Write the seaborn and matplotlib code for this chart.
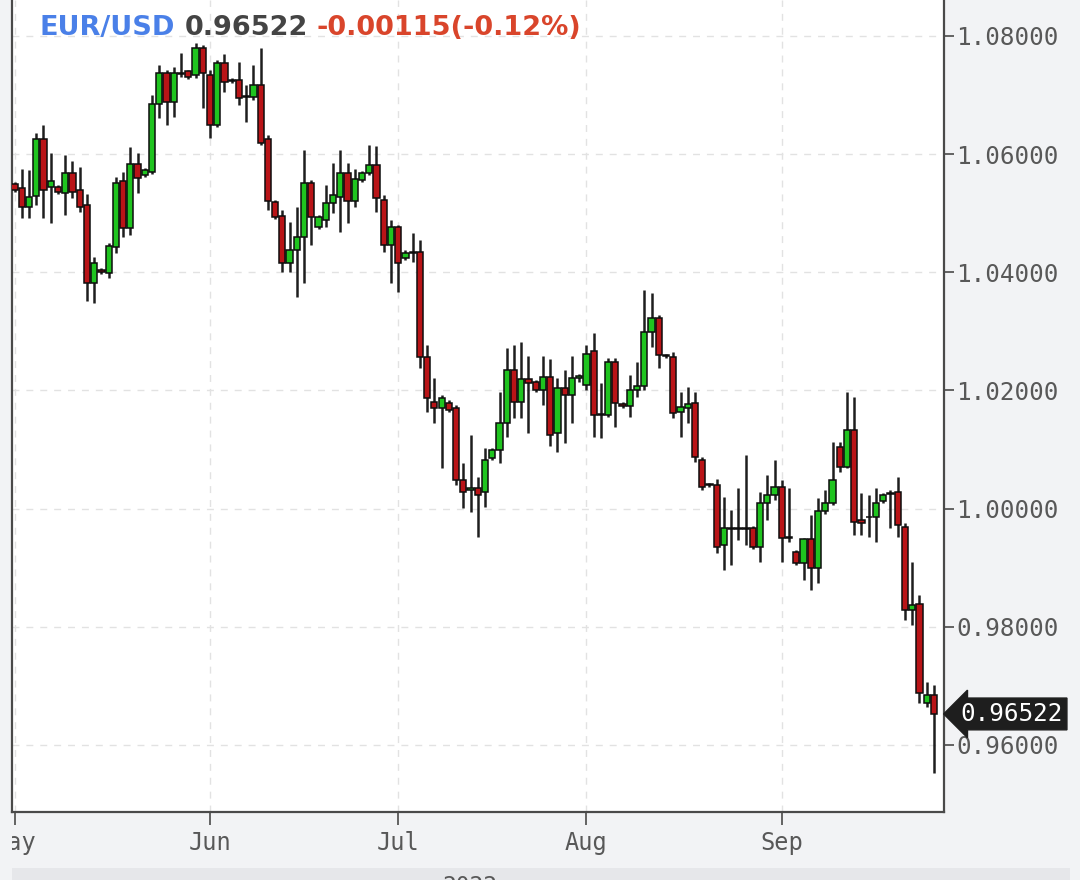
import numpy as np
import pandas as pd
import matplotlib
matplotlib.use("Agg")
import matplotlib.pyplot as plt
import seaborn as sns
from matplotlib.transforms import Bbox, TransformedBbox
from matplotlib.ticker import FormatStrFormatter

# ---------------- data ----------------
symbol = "EUR/USD"
last_price = "0.96522"
change_text = "-0.00115(-0.12%)"
year_text = "2022"
month_labels = ["May", "Jun", "Jul", "Aug", "Sep"]
y_ticks = [0.96, 0.98, 1.00, 1.02, 1.04, 1.06, 1.08]

# FX daily candles (Sunday sessions included, no Saturdays), 2022-05-01 .. 2022-09-26
all_days = pd.date_range("2022-05-01", "2022-09-26", freq="D")
dates = all_days[all_days.dayofweek != 5]

opens = [1.0549, 1.0543, 1.0510, 1.0529, 1.0626, 1.0544, 1.0544, 1.0534, 1.0568, 1.0539,
         1.0514, 1.0382, 1.0404, 1.0399, 1.0443, 1.0554, 1.0475, 1.0583, 1.0565, 1.0570,
         1.0685, 1.0737, 1.0688, 1.0736, 1.0741, 1.0734, 1.0780, 1.0734, 1.0649, 1.0754,
         1.0726, 1.0726, 1.0697, 1.0697, 1.0717, 1.0626, 1.0519, 1.0495, 1.0416, 1.0438,
         1.0460, 1.0551, 1.0477, 1.0488, 1.0517, 1.0527, 1.0568, 1.0521, 1.0556, 1.0568,
         1.0582, 1.0522, 1.0446, 1.0477, 1.0424, 1.0433, 1.0434, 1.0257, 1.0180, 1.0170,
         1.0179, 1.0170, 1.0048, 1.0031, 1.0035, 1.0028, 1.0086, 1.0099, 1.0145, 1.0235,
         1.0180, 1.0219, 1.0214, 1.0201, 1.0223, 1.0128, 1.0204, 1.0192, 1.0221, 1.0209,
         1.0267, 1.0158, 1.0158, 1.0248, 1.0177, 1.0174, 1.0201, 1.0207, 1.0299, 1.0323,
         1.0260, 1.0257, 1.0163, 1.0170, 1.0179, 1.0082, 1.0042, 1.0040, 0.9938, 0.9967,
         0.9967, 0.9967, 0.9967, 0.9935, 1.0009, 1.0023, 1.0036, 0.9950, 0.9926, 0.9908,
         0.9948, 0.9899, 0.9996, 1.0009, 1.0104, 1.0070, 1.0133, 0.9981, 0.9986, 0.9986,
         1.0013, 1.0025, 1.0028, 0.9969, 0.9828, 0.9838, 0.9671, 0.9684]
highs = [1.0553, 1.0575, 1.0573, 1.0636, 1.0649, 1.0602, 1.0548, 1.0598, 1.0588, 1.0578,
         1.0532, 1.0426, 1.0407, 1.0450, 1.0561, 1.0570, 1.0612, 1.0602, 1.0577, 1.0700,
         1.0751, 1.0742, 1.0748, 1.0771, 1.0742, 1.0788, 1.0785, 1.0742, 1.0759, 1.0770,
         1.0729, 1.0756, 1.0717, 1.0751, 1.0780, 1.0632, 1.0522, 1.0505, 1.0485, 1.0510,
         1.0607, 1.0556, 1.0497, 1.0548, 1.0585, 1.0607, 1.0585, 1.0575, 1.0571, 1.0615,
         1.0614, 1.0531, 1.0488, 1.0480, 1.0438, 1.0466, 1.0455, 1.0277, 1.0221, 1.0192,
         1.0184, 1.0175, 1.0077, 1.0124, 1.0053, 1.0102, 1.0102, 1.0197, 1.0272, 1.0277,
         1.0282, 1.0258, 1.0218, 1.0258, 1.0253, 1.0221, 1.0235, 1.0258, 1.0228, 1.0277,
         1.0297, 1.0212, 1.0255, 1.0255, 1.0180, 1.0226, 1.0248, 1.0370, 1.0365, 1.0328,
         1.0262, 1.0265, 1.0197, 1.0206, 1.0197, 1.0087, 1.0043, 1.0050, 1.0020, 0.9997,
         1.0035, 1.0091, 0.9970, 1.0028, 1.0057, 1.0082, 1.0048, 1.0035, 0.9930, 0.9950,
         0.9989, 1.0018, 1.0031, 1.0113, 1.0113, 1.0197, 1.0189, 1.0026, 1.0023, 1.0035,
         1.0026, 1.0031, 1.0053, 0.9975, 0.9909, 0.9854, 0.9706, 0.9701]
lows = [1.0536, 1.0492, 1.0492, 1.0514, 1.0492, 1.0483, 1.0532, 1.0497, 1.0526, 1.0502,
        1.0351, 1.0348, 1.0397, 1.0390, 1.0433, 1.0460, 1.0463, 1.0534, 1.0561, 1.0566,
        1.0661, 1.0649, 1.0663, 1.0731, 1.0727, 1.0729, 1.0678, 1.0627, 1.0646, 1.0705,
        1.0720, 1.0683, 1.0654, 1.0692, 1.0615, 1.0505, 1.0490, 1.0400, 1.0400, 1.0358,
        1.0382, 1.0446, 1.0473, 1.0477, 1.0500, 1.0468, 1.0483, 1.0510, 1.0553, 1.0565,
        1.0502, 1.0434, 1.0382, 1.0367, 1.0421, 1.0417, 1.0238, 1.0163, 1.0145, 1.0069,
        1.0163, 1.0040, 1.0001, 0.9994, 0.9952, 1.0002, 1.0082, 1.0077, 1.0121, 1.0153,
        1.0153, 1.0128, 1.0197, 1.0175, 1.0106, 1.0096, 1.0111, 1.0145, 1.0214, 1.0201,
        1.0121, 1.0119, 1.0155, 1.0138, 1.0170, 1.0155, 1.0189, 1.0201, 1.0273, 1.0238,
        1.0255, 1.0153, 1.0121, 1.0145, 1.0079, 1.0031, 1.0036, 0.9925, 0.9896, 0.9904,
        0.9947, 0.9938, 0.9931, 0.9909, 0.9981, 1.0014, 0.9909, 0.9943, 0.9904, 0.9879,
        0.9862, 0.9874, 0.9991, 1.0006, 1.0062, 1.0069, 0.9955, 0.9955, 0.9952, 0.9943,
        1.0009, 0.9967, 0.9952, 0.9811, 0.9803, 0.9671, 0.9664, 0.9552]
closes = [1.0539, 1.0510, 1.0527, 1.0626, 1.0539, 1.0554, 1.0536, 1.0568, 1.0536, 1.0510,
          1.0382, 1.0416, 1.0400, 1.0444, 1.0551, 1.0475, 1.0583, 1.0560, 1.0573, 1.0685,
          1.0737, 1.0688, 1.0737, 1.0737, 1.0731, 1.0780, 1.0737, 1.0649, 1.0754, 1.0722,
          1.0724, 1.0695, 1.0698, 1.0717, 1.0619, 1.0521, 1.0494, 1.0416, 1.0438, 1.0460,
          1.0551, 1.0494, 1.0494, 1.0517, 1.0531, 1.0568, 1.0521, 1.0558, 1.0568, 1.0582,
          1.0526, 1.0446, 1.0477, 1.0416, 1.0433, 1.0434, 1.0257, 1.0187, 1.0170, 1.0187,
          1.0167, 1.0048, 1.0028, 1.0035, 1.0023, 1.0082, 1.0099, 1.0145, 1.0235, 1.0180,
          1.0219, 1.0212, 1.0201, 1.0223, 1.0124, 1.0204, 1.0192, 1.0221, 1.0224, 1.0262,
          1.0158, 1.0160, 1.0248, 1.0179, 1.0174, 1.0201, 1.0207, 1.0299, 1.0323, 1.0260,
          1.0258, 1.0162, 1.0172, 1.0177, 1.0087, 1.0036, 1.0040, 0.9935, 0.9967, 0.9966,
          0.9965, 0.9965, 0.9935, 1.0009, 1.0023, 1.0036, 0.9950, 0.9952, 0.9908, 0.9948,
          0.9899, 0.9996, 1.0009, 1.0048, 1.0070, 1.0133, 0.9977, 0.9975, 0.9985, 1.0009,
          1.0023, 1.0026, 0.9972, 0.9828, 0.9837, 0.9688, 0.9684, 0.96522]

df = pd.DataFrame({"date": dates, "open": opens, "high": highs,
                   "low": lows, "close": closes})
df["pos"] = np.arange(len(df))
df["up"] = df["close"] >= df["open"]

# ---------------- style ----------------
sns.set_theme(style="white")
plt.rcParams["font.family"] = ["DejaVu Sans"]

GREEN = "#1fc41f"
RED = "#b91417"
AXIS_GREY = "#4a4a4a"
TXT_GREY = "#585858"
BG = "#f2f3f5"

fig = plt.figure(figsize=(10.8, 8.8), dpi=100, facecolor=BG)
ax = fig.add_axes([12 / 1080, 68 / 880, 932 / 1080, 812 / 880])
ax.set_facecolor("white")

# wicks
ax.vlines(df["pos"], df["low"], df["high"], color="#1e1e1e", lw=1.8, zorder=2)
# bodies
body = (df["close"] - df["open"]).to_numpy()
body = np.where(np.abs(body) < 0.00008, np.sign(body + 1e-12) * 0.00008, body)
ax.bar(df["pos"], body, bottom=df["open"], width=0.86,
       color=np.where(df["up"], GREEN, RED), edgecolor="#0d0d0d",
       linewidth=1.1, zorder=3)

# axes limits
ax.set_xlim(-0.35, 128.4)
ax.set_ylim(0.94862, 1.08609)

# x ticks at the first candle of every month
month_first = df.groupby(df["date"].dt.month)["pos"].min().to_numpy()
ax.set_xticks(month_first)
ax.set_xticklabels(month_labels)
ax.set_yticks(y_ticks)
ax.yaxis.set_major_formatter(FormatStrFormatter("%.5f"))
ax.yaxis.tick_right()

mono = "DejaVu Sans Mono"
ax.tick_params(axis="y", which="both", right=True, left=False, direction="out",
               length=7, width=1.2, color=AXIS_GREY, labelcolor=TXT_GREY,
               labelsize=17.5, pad=2)
ax.tick_params(axis="x", bottom=True, direction="out", length=9, width=1.2,
               color=AXIS_GREY, labelcolor=TXT_GREY, labelsize=17, pad=5)
for lbl in ax.get_xticklabels() + ax.get_yticklabels():
    lbl.set_family(mono)

# clip the "May" label at the left edge of the plot
clip = TransformedBbox(Bbox([[12 / 1080, 0], [1, 1]]), fig.transFigure)
for lbl in ax.get_xticklabels():
    lbl.set_clip_box(clip)
    lbl.set_clip_on(True)

ax.grid(True, color="#e2e2e2", lw=1.0, ls=(0, (5, 5)), zorder=0)

for side in ["left", "right", "bottom"]:
    ax.spines[side].set_color(AXIS_GREY)
    ax.spines[side].set_linewidth(1.6)
ax.spines["top"].set_visible(False)

# last price tag
ax.annotate(last_price, xy=(1.0, df["close"].iloc[-1]), xycoords=("axes fraction", "data"),
            xytext=(12, 0), textcoords="offset points", va="center", ha="left",
            color="white", fontsize=17.5, family=mono,
            bbox=dict(boxstyle="larrow,pad=0.16", fc="#1e1e1e", ec="#1e1e1e"),
            annotation_clip=False, zorder=10)

# header text pieces
fig.canvas.draw()
renderer = fig.canvas.get_renderer()
x_px = 40
parts = [(symbol, "#4a80e8"), (last_price, "#444444"), (change_text, "#d9452b")]
for txt, col in parts:
    t = fig.text(x_px / 1080, 1 - 28 / 880, txt, color=col, fontsize=19.5,
                 fontweight="bold", va="center", ha="left")
    bb = t.get_window_extent(renderer=renderer)
    x_px = bb.x1 + 9

# bottom band with year
band = plt.Rectangle((12 / 1080, 0), 1058 / 1080, 12 / 880, transform=fig.transFigure,
                     facecolor="#e6e7ea", edgecolor="none", zorder=0)
fig.patches.append(band)
fig.text(470 / 1080, -6 / 880, year_text, color=TXT_GREY, fontsize=16.5,
         family=mono, ha="center", va="center")

fig.savefig("out.png", dpi=100, facecolor=BG)
